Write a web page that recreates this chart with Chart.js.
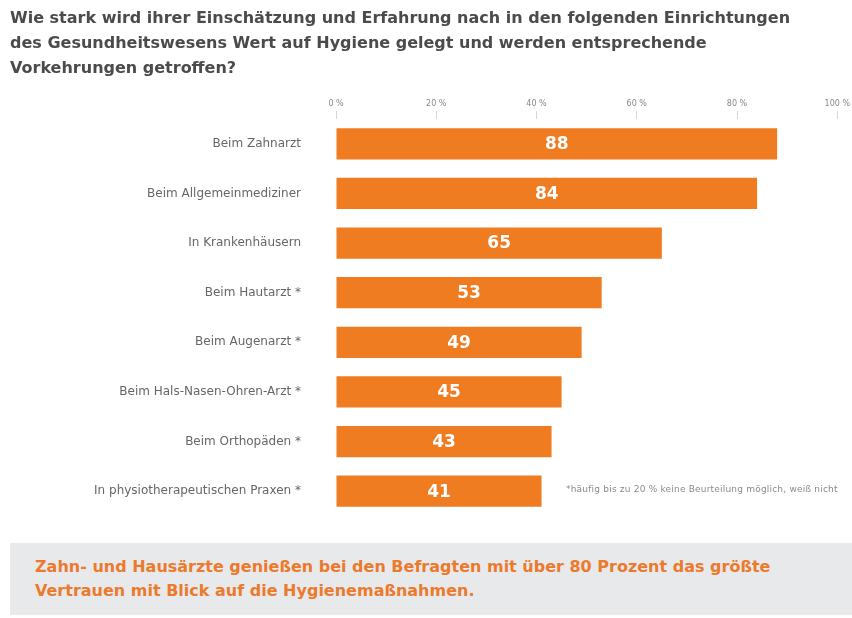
<!DOCTYPE html>
<html>
<head>
<meta charset="utf-8">
<script src="https://cdn.jsdelivr.net/npm/chart.js@4/dist/chart.umd.min.js"></script>
<style>
  html, body { margin:0; padding:0; background:#fff; }
  #wrap { position:relative; width:852px; height:618px; overflow:hidden; font-family:"DejaVu Sans", sans-serif; }
  #c { position:absolute; left:0; top:0; }
  #title { position:absolute; left:10px; top:5px; font-weight:bold; font-size:16px; line-height:25px; color:#4b4b4b; white-space:nowrap; }
  #note { position:absolute; left:566px; top:484px; font-size:9px; color:#8a8a8a; white-space:nowrap; letter-spacing:0.2px; }
  #box { position:absolute; left:10px; top:543px; width:842px; height:72px; background:#e8e9eb; }
  #box div { position:absolute; left:25px; top:12px; font-weight:bold; font-size:16px; line-height:24px; color:#ec7a2c; white-space:nowrap; }
</style>
</head>
<body>
<div id="wrap">
  <canvas id="c" width="852" height="618"></canvas>
  <div id="title">Wie stark wird ihrer Einschätzung und Erfahrung nach in den folgenden Einrichtungen<br>des Gesundheitswesens Wert auf Hygiene gelegt und werden entsprechende<br>Vorkehrungen getroffen?</div>
  <div id="note">*häufig bis zu 20 % keine Beurteilung möglich, weiß nicht</div>
  <div id="box"><div>Zahn- und Hausärzte genießen bei den Befragten mit über 80 Prozent das größte<br>Vertrauen mit Blick auf die Hygienemaßnahmen.</div></div>
</div>
<script>
const categories = [
  "Beim Zahnarzt",
  "Beim Allgemeinmediziner",
  "In Krankenhäusern",
  "Beim Hautarzt *",
  "Beim Augenarzt *",
  "Beim Hals-Nasen-Ohren-Arzt *",
  "Beim Orthopäden *",
  "In physiotherapeutischen Praxen *"
];
const values = [88, 84, 65, 53, 49, 45, 43, 41];
const tickValues = [0, 20, 40, 60, 80, 100];

const valueLabels = {
  id: 'valueLabels',
  afterDatasetsDraw(chart) {
    const ctx = chart.ctx;
    const meta = chart.getDatasetMeta(0);
    ctx.save();
    ctx.font = 'bold 17px "DejaVu Sans", sans-serif';
    ctx.fillStyle = '#fff';
    ctx.textAlign = 'center';
    ctx.textBaseline = 'middle';
    meta.data.forEach((bar, i) => {
      const cx = (bar.x + bar.base) / 2;
      ctx.fillText(String(values[i]), cx, bar.y + 1);
    });
    ctx.restore();
  }
};

new Chart(document.getElementById('c'), {
  type: 'bar',
  data: {
    labels: categories,
    datasets: [{
      data: values,
      backgroundColor: '#f07c22',
      borderWidth: 0,
      barPercentage: 0.63,
      categoryPercentage: 1.0
    }]
  },
  options: {
    indexAxis: 'y',
    responsive: false,
    animation: false,
    devicePixelRatio: 1,
    layout: { padding: { top: 97, bottom: 102, left: 0, right: 12 } },
    plugins: { legend: { display: false }, tooltip: { enabled: false } },
    scales: {
      x: {
        position: 'top',
        min: 0, max: 100,
        afterBuildTicks(scale) { scale.ticks = tickValues.map(v => ({ value: v })); },
        afterFit(scale) { scale.height = 22; },
        border: { display: false },
        grid: { drawOnChartArea: false, drawTicks: true, tickLength: 8, color: '#d6d6d6' },
        ticks: {
          color: '#888',
          font: { size: 8, family: '"DejaVu Sans", sans-serif' },
          padding: 2,
          maxRotation: 0,
          callback: (v) => v + ' %'
        }
      },
      y: {
        afterFit(scale) { scale.width = 336; },
        border: { display: false },
        grid: { display: false, drawTicks: false },
        ticks: {
          color: '#666',
          font: { size: 12, family: '"DejaVu Sans", sans-serif' },
          padding: 35
        }
      }
    }
  },
  plugins: [valueLabels]
});
</script>
</body>
</html>
